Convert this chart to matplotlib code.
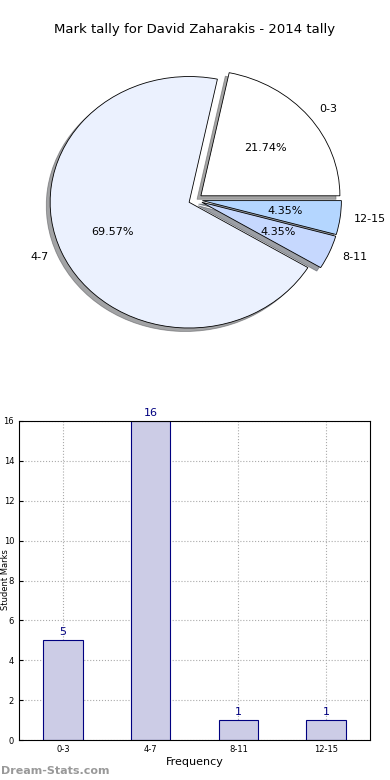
import matplotlib
matplotlib.use("Agg")
import matplotlib.pyplot as plt
import numpy as np

# mark tally data
categories = ["0-3", "4-7", "8-11", "12-15"]
counts = [5, 16, 1, 1]
pie_colors = ["#ffffff", "#ebf1fe", "#c6d8fe", "#b4d6ff"]

fig = plt.figure(figsize=(3.9, 7.8), dpi=100)

fig.text(0.5, 1 - 30 / 780, "Mark tally for David Zaharakis - 2014 tally",
         ha="center", va="center", fontsize=9.5)

# pie chart
ax1 = fig.add_axes([0.0558, 0.5424, 0.891, 0.403])
ax1.pie(counts, labels=categories, colors=pie_colors, autopct="%.2f%%",
        explode=[0.05] * 4, shadow=True, startangle=0,
        wedgeprops={"edgecolor": "black", "linewidth": 0.6},
        textprops={"fontsize": 8})
ax1.set_aspect("auto")
ax1.set_xlim(-1.25, 1.25)
ax1.set_ylim(-1.25, 1.25)
ax1.axis("off")

# bar chart
ax2 = fig.add_axes([19 / 390, 40 / 780, 351 / 390, 319 / 780])
x = np.arange(len(categories))
ax2.bar(x, counts, width=0.45, color="#ccccE6", edgecolor="navy", linewidth=0.8,
        zorder=2)
for xi, c in zip(x, counts):
    ax2.text(xi, c + 0.15, str(c), ha="center", va="bottom", color="navy",
             fontsize=8)
ax2.set_xlim(-0.5, 3.5)
ax2.set_ylim(0, 16)
ax2.set_yticks(range(0, 17, 2))
ax2.set_xticks(x)
ax2.set_xticklabels(categories)
ax2.tick_params(labelsize=6, direction="in", length=3)
ax2.grid(True, linestyle=":", color="#aaaaaa", linewidth=0.8, zorder=0)
ax2.set_axisbelow(True)
ax2.set_xlabel("Frequency", fontsize=8, labelpad=2)

# y label squeezed against the left edge like the original
fig.text(0.002, 1 - 580 / 780, "Student Marks", rotation=90, ha="left",
         va="center", fontsize=6)

fig.text(0.002, 1 - 771 / 780, "Dream-Stats.com", ha="left", va="center",
         color="#999999", fontsize=8, fontweight="bold")

fig.savefig("out.png", dpi=100)
